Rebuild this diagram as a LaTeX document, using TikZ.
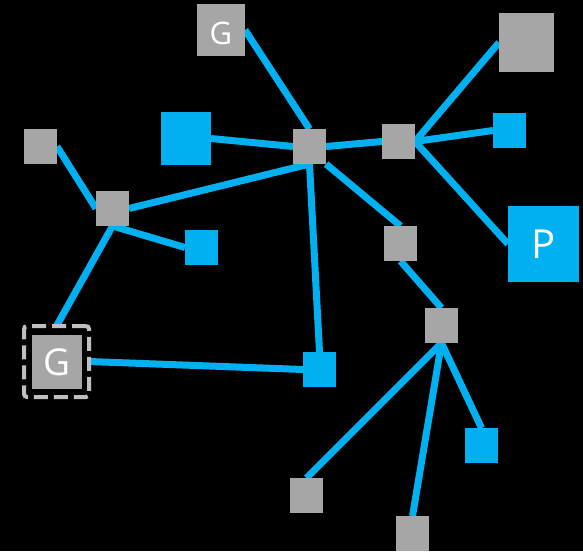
\documentclass[tikz,border=0pt]{standalone}
\usepackage{fontspec}
\newfontfamily\boxfont{Open Sans}
\usetikzlibrary{backgrounds}
\definecolor{boxgray}{HTML}{A6A6A6}
\definecolor{netblue}{HTML}{00B0F0}
\definecolor{framegray}{HTML}{BFBFBF}

\begin{document}
\begin{tikzpicture}[
        x=1pt, y=-1pt,
        gbox/.style={fill=boxgray, minimum width=33pt, minimum height=35pt, inner sep=0pt, outer sep=0pt, text=white},
        bbox/.style={gbox, fill=netblue},
        link/.style={draw=netblue, line width=7pt},
        frame/.style={draw=framegray, line width=4pt, dash pattern=on 14pt off 6pt, rounded corners=3pt, inner sep=0pt, outer sep=0pt},
        ]
    \useasboundingbox (0,0) rectangle (583,551);

    \node [gbox, minimum width=48pt, minimum height=52pt, font=\boxfont\fontsize{31}{31}\selectfont] (gtop) at (221,30) {\raisebox{-3pt}[\height][0pt]{G}};
    \node [bbox, minimum width=50pt, minimum height=53pt] (bigblue) at (186,138.5) {};
    \node [gbox] (hubA) at (309.5,146.5) {};
    \node [gbox] (hubB) at (398.5,141.5) {};
    \node [gbox, minimum width=55pt, minimum height=59pt] (corner) at (526.5,42.5) {};
    \node [bbox] (rblue) at (509.5,130.5) {};
    \node [bbox, minimum width=71pt, minimum height=76pt, font=\boxfont\fontsize{40}{40}\selectfont] (pbox) at (543.5,244) {P};
    \node [gbox] (mid) at (400.5,243.5) {};
    \node [gbox] (hubD) at (441.5,325.5) {};
    \node [bbox] (cblue) at (319.5,369.5) {};
    \node [bbox] (fblue) at (481.5,445.5) {};
    \node [gbox] (bleft) at (306.5,495.5) {};
    \node [gbox] (bottom) at (412.5,533.5) {};
    \node [gbox] (tleft) at (40.5,146.5) {};
    \node [gbox] (hubH) at (112.5,208.5) {};
    \node [bbox] (lblue) at (201.5,247.5) {};
    \node [gbox, minimum width=50pt, minimum height=54pt, font=\boxfont\fontsize{37}{37}\selectfont] (gleft) at (57,362) {G};
    \node [frame, minimum width=65pt, minimum height=71pt] (gframe) at (56.5,361.5) {};

    % links sit behind the boxes
    \begin{scope}[on background layer]
        \fill [black] (0,0) rectangle (583,551);
        \draw [link] (gtop.east) -- (hubA.north);
        \draw [link] (bigblue.east) -- (hubA.west);
        \draw [link] (hubH.east) -- (hubA.south);
        \draw [link] (hubA.south) -- (cblue.north);
        \draw [link] (hubA.east) -- (hubB.west);
        \draw [link] (hubA.south east) -- (mid.north);
        \draw [link] (hubB.east) -- (corner.west);
        \draw [link] (hubB.east) -- (rblue.west);
        \draw [link] (hubB.east) -- (pbox.west);
        \draw [link] (mid.south) -- (hubD.north);
        \draw [link] (hubD.south) -- (bleft.north);
        \draw [link] (hubD.south) -- (bottom.north);
        \draw [link] (hubD.south) -- (fblue.north);
        \draw [link] (tleft.east) -- (hubH.west);
        \draw [link] (hubH.south) -- (lblue.west);
        \draw [link] (hubH.south) -- (gframe.north);
        \draw [link] (gframe.east) -- (cblue.west);
    \end{scope}
\end{tikzpicture}
\end{document}
